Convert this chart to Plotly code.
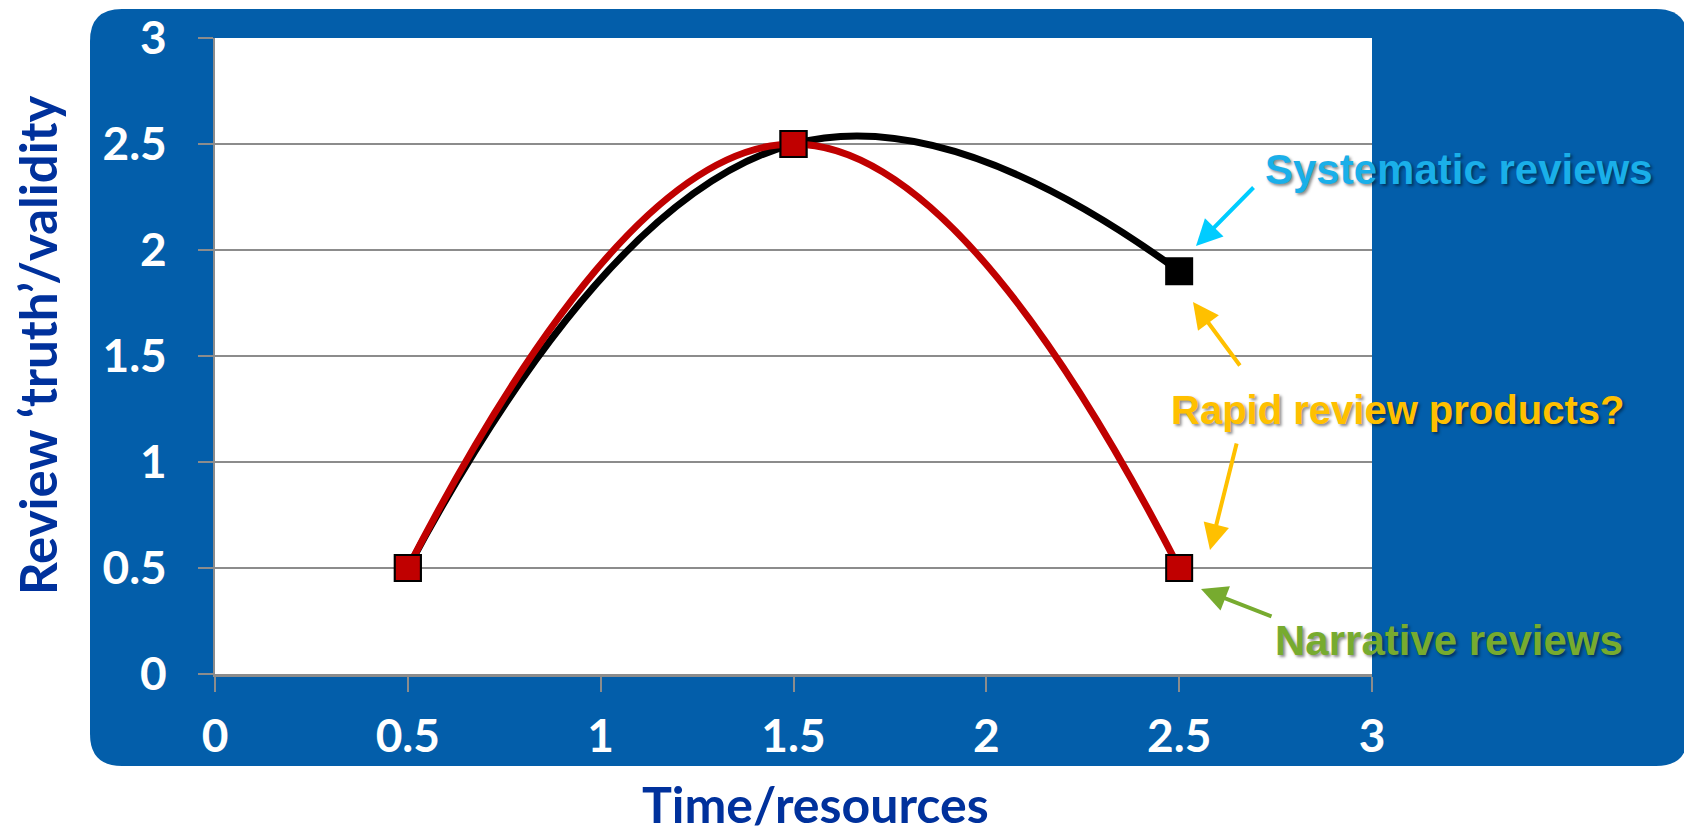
import plotly.graph_objects as go

# ---- data ----
x_vals = [0.5, 1.5, 2.5]
systematic_y = [0.5, 2.5, 1.9]
narrative_y = [0.5, 2.5, 0.5]
tick_vals = [0, 0.5, 1, 1.5, 2, 2.5, 3]
tick_text = ["0", "0.5", "1", "1.5", "2", "2.5", "3"]

OFF = 8  # default page margin of the browser
W, H = 1692 - OFF, 832 - OFF
L, R, T, B = 215 - OFF, 1372 - OFF, 38 - OFF, 674 - OFF  # plot area pixels


def px(xp):
    return (xp - OFF - L) / (R - L)


def py(yp):
    return (B - (yp - OFF)) / (B - T)


BLUE = "#035EAA"
TITLE_BLUE = "#00319C"
GRID = "#8C8C8C"

fig = go.Figure()
fig.add_trace(go.Scatter(
    x=x_vals, y=systematic_y, mode="lines+markers",
    line=dict(color="black", width=7, shape="spline", smoothing=1.3),
    marker=dict(symbol="square", size=26, color="black",
                line=dict(color="black", width=2)),
    showlegend=False, cliponaxis=False))
fig.add_trace(go.Scatter(
    x=x_vals, y=narrative_y, mode="lines+markers",
    line=dict(color="#C00000", width=7, shape="spline", smoothing=1.3),
    marker=dict(symbol="square", size=26, color="#C00000",
                line=dict(color="black", width=2)),
    showlegend=False, cliponaxis=False))

# rounded blue panel
x0, y0, x1, y1, r = 90, 9, 1688, 766, 32
path = (f"M {px(x0+r)},{py(y0)} L {px(x1-r)},{py(y0)} "
        f"Q {px(x1)},{py(y0)} {px(x1)},{py(y0+r)} "
        f"L {px(x1)},{py(y1-r)} Q {px(x1)},{py(y1)} {px(x1-r)},{py(y1)} "
        f"L {px(x0+r)},{py(y1)} Q {px(x0)},{py(y1)} {px(x0)},{py(y1-r)} "
        f"L {px(x0)},{py(y0+r)} Q {px(x0)},{py(y0)} {px(x0+r)},{py(y0)} Z")
fig.add_shape(type="path", path=path, xref="paper", yref="paper",
              fillcolor=BLUE, line=dict(width=0), layer="below")
fig.add_shape(type="rect", xref="paper", yref="paper", x0=0, x1=1, y0=0, y1=1,
              fillcolor="white", line=dict(width=0), layer="below")

tick_font = dict(family="Lato", size=46, color="white", weight="bold")
fig.update_xaxes(range=[0, 3], tickvals=tick_vals, ticktext=tick_text,
                 showgrid=False, showline=True, linecolor=GRID, linewidth=3,
                 ticks="outside", ticklen=15, tickwidth=2, tickcolor=GRID,
                 tickfont=tick_font, ticklabelstandoff=5, zeroline=False,
                 automargin=False, fixedrange=True)
fig.update_yaxes(range=[0, 3], tickvals=tick_vals, ticktext=tick_text,
                 showgrid=True, gridcolor=GRID, gridwidth=2,
                 showline=True, linecolor=GRID, linewidth=2,
                 ticks="outside", ticklen=15, tickwidth=2, tickcolor=GRID,
                 tickfont=tick_font, ticklabelstandoff=22, zeroline=False,
                 automargin=False, fixedrange=True)

shadow = "2px 2px 3px rgba(0,0,0,0.45)"
ann = []
# axis titles
ann.append(dict(xref="paper", yref="paper", x=px(38), y=py(345),
                xanchor="center", yanchor="middle",
                text="Review ‘truth’/validity", textangle=-90, showarrow=False,
                font=dict(family="Lato", size=51, color=TITLE_BLUE, weight="bold")))
ann.append(dict(xref="paper", yref="paper", x=px(815), y=py(804),
                xanchor="center", yanchor="middle",
                text="Time/resources", showarrow=False,
                font=dict(family="Lato", size=50, color=TITLE_BLUE, weight="bold")))
# labels
labels = [
    ("Systematic reviews", 1459, 169, 42, "#1AAFE9"),
    ("Rapid review products?", 1397, 410, 40, "#FFC000"),
    ("Narrative reviews", 1449, 640, 42, "#77AB2F"),
]
for txt, lx, ly, fs, col in labels:
    ann.append(dict(xref="paper", yref="paper", x=px(lx), y=py(ly),
                    xanchor="center", yanchor="middle",
                    text=txt, showarrow=False,
                    font=dict(family="Liberation Sans", size=fs, color=col,
                              weight="bold", shadow=shadow)))
# arrows (head and tail in pixels)
arrows = [
    ((1196, 246), (1255, 186), "#00CCFF"),
    ((1193, 302), (1241, 367), "#FFC000"),
    ((1210, 550), (1237, 442), "#FFC000"),
    ((1201, 589), (1273, 617), "#77AB2F"),
]
for (hx, hy), (tx, ty), col in arrows:
    ann.append(dict(xref="paper", yref="paper", x=px(hx), y=py(hy),
                    ax=tx - hx, ay=ty - hy, text="", showarrow=True,
                    arrowhead=2, arrowsize=1.3, arrowwidth=4, arrowcolor=col))

fig.update_layout(width=W, height=H, margin=dict(l=L, r=W - R, t=T, b=H - B),
                  paper_bgcolor="white", plot_bgcolor="white",
                  annotations=ann, showlegend=False)

fig.write_html("out.html", config={"displayModeBar": False})
